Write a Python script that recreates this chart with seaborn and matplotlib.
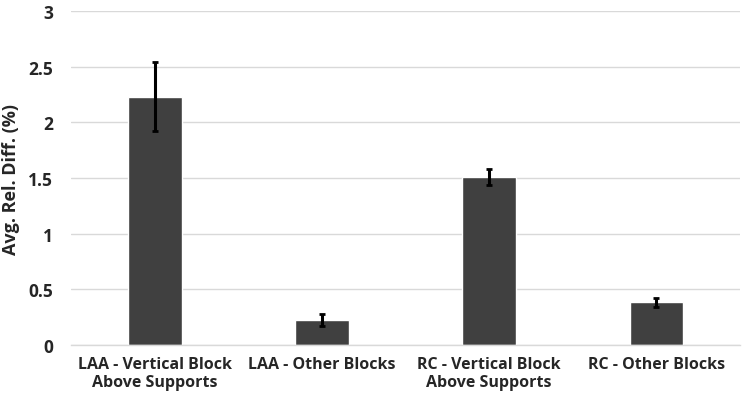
import matplotlib
matplotlib.use("Agg")
import matplotlib.pyplot as plt
import seaborn as sns
import pandas as pd

# Chart data
categories = ["LAA - Vertical Block\nAbove Supports", "LAA - Other Blocks",
              "RC - Vertical Block\nAbove Supports", "RC - Other Blocks"]
values = [2.23, 0.225, 1.51, 0.385]
errors = [0.31, 0.055, 0.07, 0.04]

data = pd.DataFrame({"category": categories, "value": values, "err": errors})

sns.set_theme(style="white")
plt.rcParams['font.family'] = ['Open Sans', 'DejaVu Sans']

fig = plt.figure(figsize=(7.49, 4.06), dpi=100)
ax = fig.add_axes([0.095, 0.148, 0.893, 0.822])

sns.barplot(data=data, x="category", y="value", color="#404040",
            saturation=1, width=0.32, errorbar=None, ax=ax, zorder=2)
ax.errorbar(x=range(len(values)), y=data["value"], yerr=data["err"],
            fmt="none", ecolor="black", elinewidth=2.2, capsize=2,
            capthick=2, zorder=3)

ax.set_ylim(0, 3)
ax.set_xlim(-0.5, 3.5)
ax.set_yticks([0, 0.5, 1, 1.5, 2, 2.5, 3])
ax.set_yticklabels(["0", "0.5", "1", "1.5", "2", "2.5", "3"])
ax.yaxis.grid(True, color="#d9d9d9", linewidth=1, zorder=0)
ax.set_axisbelow(True)
for s in ["top", "right", "left"]:
    ax.spines[s].set_visible(False)
ax.spines["bottom"].set_color("#d9d9d9")
ax.spines["bottom"].set_linewidth(1)

ax.tick_params(axis="x", length=0, labelsize=11.5, pad=8)
ax.tick_params(axis="y", length=0, labelsize=12.5, pad=13)
for lbl in ax.get_xticklabels() + ax.get_yticklabels():
    lbl.set_fontweight("bold")
ax.set_xlabel("")
ax.set_ylabel("Avg. Rel. Diff. (%)", fontsize=13, fontweight="bold", labelpad=6)

plt.savefig("out.png", dpi=100)
plt.close()
